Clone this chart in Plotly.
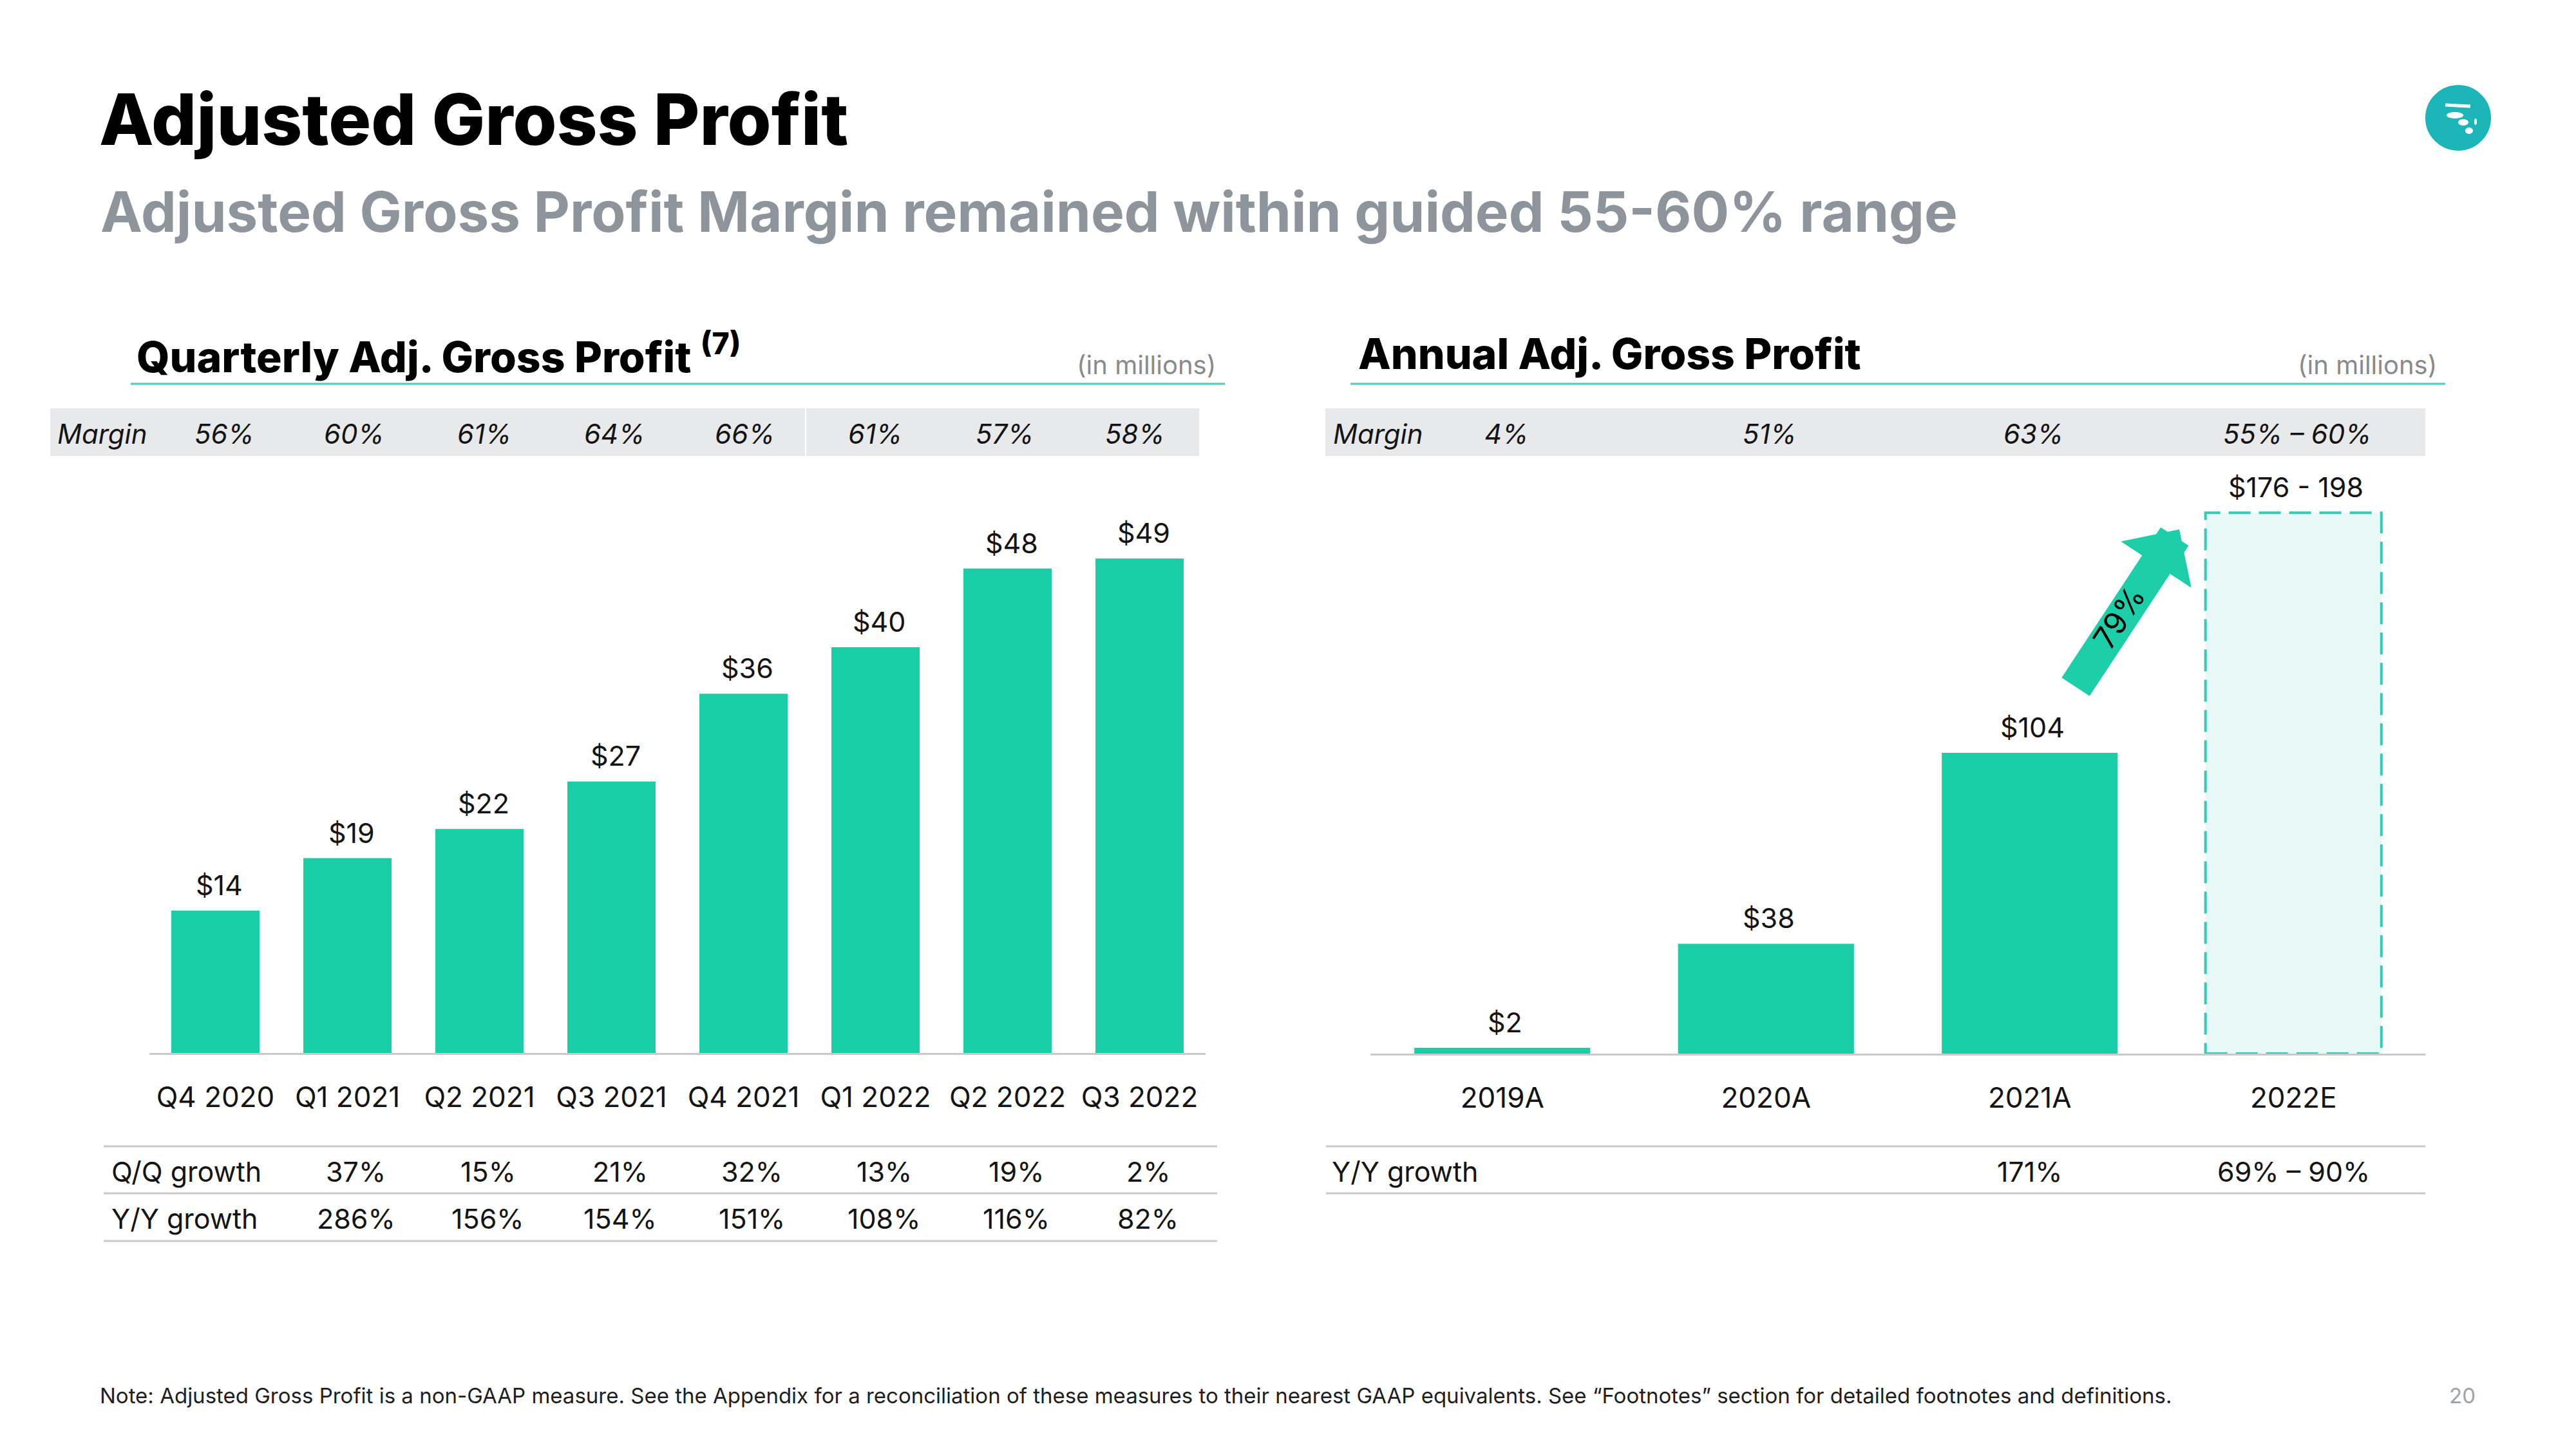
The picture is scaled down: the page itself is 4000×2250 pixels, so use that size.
import plotly.graph_objects as go

W, H = 4000, 2250
OFF = 8  # page body margin of the rendered html


def px(x):
    return (x - OFF) / W


def py(y):
    return 1 - (y - OFF) / H


# ---------------- data ----------------
quarters = ["Q4 2020", "Q1 2021", "Q2 2021", "Q3 2021", "Q4 2021", "Q1 2022", "Q2 2022", "Q3 2022"]
quarterly_gp = [14.1, 19.3, 22.2, 26.9, 35.6, 40.2, 48.0, 49.0]
quarterly_labels = ["$14", "$19", "$22", "$27", "$36", "$40", "$48", "$49"]
quarterly_margin = ["56%", "60%", "61%", "64%", "66%", "61%", "57%", "58%"]
quarterly_qq = ["", "37%", "15%", "21%", "32%", "13%", "19%", "2%"]
quarterly_yy = ["", "286%", "156%", "154%", "151%", "108%", "116%", "82%"]

years = ["2019A", "2020A", "2021A", "2022E"]
annual_actual = [2, 38, 104]
guide_low, guide_high = 176, 198
annual_labels = ["$2", "$38", "$104", "$176 - 198"]
annual_margin = ["4%", "51%", "63%", "55% – 60%"]
annual_yy = ["", "", "171%", "69% – 90%"]
arrow_label = "79%"

# ---------------- styles ----------------
BODY = "Inter"
HEAD = "Inter"
BAR = "#19CDA6"
TEAL_LINE = "#4CCBBE"
GRID = "#C9C9C9"
BAND = "#E8E9EB"
TXT = "#141414"

fig = go.Figure()

fig.add_trace(go.Bar(x=quarters, y=quarterly_gp, width=0.668, marker=dict(color=BAR, line=dict(width=0)),
                     xaxis="x", yaxis="y", hoverinfo="skip"))
fig.add_trace(go.Bar(x=years[:3], y=annual_actual, width=0.667, marker=dict(color=BAR, line=dict(width=0)),
                     xaxis="x2", yaxis="y2", hoverinfo="skip"))
guide_mid = (guide_low + guide_high) / 2
fig.add_trace(go.Bar(x=[years[3]], y=[guide_mid], width=0.667, marker=dict(color="#E8F8F6", line=dict(width=0)),
                     xaxis="x2", yaxis="y2", hoverinfo="skip"))

shapes = []
ann = []

# dashed border of the guidance bar (from data)
shapes.append(dict(type="rect", xref="x2", yref="y2", x0=3 - 0.3335, x1=3 + 0.3335, y0=0, y1=guide_mid,
                   line=dict(color="#2FCDB9", width=4, dash="34px,13px"), fillcolor="rgba(0,0,0,0)", layer="above"))

# header underlines
shapes.append(dict(type="line", xref="paper", yref="paper", x0=px(203), x1=px(1902), y0=py(596), y1=py(596),
                   line=dict(color=TEAL_LINE, width=3)))
shapes.append(dict(type="line", xref="paper", yref="paper", x0=px(2097), x1=px(3797), y0=py(596), y1=py(596),
                   line=dict(color=TEAL_LINE, width=3)))

# margin bands
shapes.append(dict(type="rect", xref="paper", yref="paper", x0=px(78), x1=px(1862), y0=py(708), y1=py(634),
                   fillcolor=BAND, line=dict(width=0), layer="below"))
shapes.append(dict(type="line", xref="paper", yref="paper", x0=px(1251), x1=px(1251), y0=py(708), y1=py(634),
                   line=dict(color="white", width=2)))
shapes.append(dict(type="rect", xref="paper", yref="paper", x0=px(2058), x1=px(3766), y0=py(708), y1=py(634),
                   fillcolor=BAND, line=dict(width=0), layer="below"))

# table lines
for yy in (1780, 1853, 1927):
    shapes.append(dict(type="line", xref="paper", yref="paper", x0=px(161), x1=px(1890), y0=py(yy), y1=py(yy),
                       line=dict(color=GRID, width=3)))
for yy in (1780, 1853):
    shapes.append(dict(type="line", xref="paper", yref="paper", x0=px(2059), x1=px(3766), y0=py(yy), y1=py(yy),
                       line=dict(color=GRID, width=3)))

# logo
shapes.append(dict(type="circle", xref="paper", yref="paper", x0=px(3767), x1=px(3867), y0=py(233), y1=py(133),
                   fillcolor="#1CB5B8", line=dict(color="#1CB5B8", width=2)))
for cx, cy, rx, ry in [(3812, 179, 13, 5), (3825, 190, 8, 5), (3834, 203, 6, 5), (3844, 189, 2, 5)]:
    shapes.append(dict(type="circle", xref="paper", yref="paper", x0=px(cx - rx), x1=px(cx + rx),
                       y0=py(cy + ry), y1=py(cy - ry), fillcolor="white", line=dict(width=0)))
shapes.append(dict(type="line", xref="paper", yref="paper", x0=px(3797), x1=px(3836), y0=py(163), y1=py(165),
                   line=dict(color="white", width=5)))


def text(x, y, s, size, color=TXT, xanchor="left", family=BODY, weight=400, style="normal", xref="paper",
         yref="paper", xshift=0, yshift=0, yanchor="middle", angle=0):
    ann.append(dict(x=x, y=y, xref=xref, yref=yref, text=s, showarrow=False, xanchor=xanchor, yanchor=yanchor,
                    xshift=xshift, yshift=yshift, textangle=angle,
                    font=dict(family=family, size=size, color=color, weight=weight, style=style)))


# titles
text(px(152), py(185), "Adjusted Gross Profit", 110, "#000000", family=HEAD, weight=800)
text(px(154), py(328), "Adjusted Gross Profit Margin remained within guided 55-60% range", 87, "#8E949C",
     family=HEAD, weight=700)

# panel headers
text(px(210), py(549), "Quarterly Adj. Gross Profit <sup>(7)</sup>", 66, "#000000", family=HEAD, weight=800)
text(px(1890), py(566), "(in millions)", 40, "#8A8A8A", xanchor="right")
text(px(2107), py(549), "Annual Adj. Gross Profit", 66, "#000000", family=HEAD, weight=800)
text(px(3786), py(566), "(in millions)", 40, "#8A8A8A", xanchor="right")

# margin rows (own column grid of the table band)
text(px(87), py(673), "Margin", 42, style="italic")
for i, m in enumerate(quarterly_margin):
    text(px(348 + 202.1 * i), py(673), m, 42, xanchor="center", style="italic")
text(px(2068), py(673), "Margin", 42, style="italic")
for yname, m in zip(years, annual_margin):
    text(yname, py(673), m, 42, xanchor="center", xref="x2", style="italic", xshift=6)

# bar value labels
for q, v, lab in zip(quarters, quarterly_gp, quarterly_labels):
    text(q, v, lab, 43, xanchor="center", xref="x", yref="y", yanchor="bottom", yshift=12, xshift=6)
for yname, v, lab in zip(years, annual_actual + [guide_mid], annual_labels):
    text(yname, v, lab, 43, xanchor="center", xref="x2", yref="y2", yanchor="bottom", yshift=12, xshift=4)

# growth tables
text(px(171), py(1819), "Q/Q growth", 43)
text(px(171), py(1892), "Y/Y growth", 43)
for q, a, b in zip(quarters, quarterly_qq, quarterly_yy):
    if a:
        text(q, py(1819), a, 43, xanchor="center", xref="x", xshift=13)
    if b:
        text(q, py(1892), b, 43, xanchor="center", xref="x", xshift=13)
text(px(2066), py(1819), "Y/Y growth", 43)
for yname, a in zip(years, annual_yy):
    if a:
        text(yname, py(1819), a, 43, xanchor="center", xref="x2")

# growth arrow
ann.append(dict(x=px(3384), y=py(822), xref="paper", yref="paper", ax=-162, ay=246, axref="pixel", ayref="pixel",
                text="", showarrow=True, arrowhead=1, arrowsize=0.42, arrowwidth=52, arrowcolor="#1DCFA8",
                standoff=0))
text(px(3290), py(958), arrow_label, 48, "#000000", xanchor="center", angle=-57)

# footer
text(px(153), py(2167),
     "Note: Adjusted Gross Profit is a non-GAAP measure. See the Appendix for a reconciliation of these measures to "
     "their nearest GAAP equivalents. See “Footnotes” section for detailed footnotes and definitions.",
     33, "#1E1E1E")
text(px(3846), py(2167), "20", 33, "#A0A4AA", xanchor="right")

axis_common = dict(showgrid=False, zeroline=False, showline=True, linecolor=GRID, linewidth=3, ticks="outside",
                   ticklen=28, tickcolor="rgba(0,0,0,0)", tickfont=dict(family=BODY, size=44, color=TXT),
                   fixedrange=True)
yaxis_common = dict(visible=False, showgrid=False, zeroline=False, fixedrange=True)

fig.update_layout(
    width=W, height=H, margin=dict(l=0, r=0, t=0, b=0),
    paper_bgcolor="white", plot_bgcolor="white", showlegend=False, barmode="overlay",
    xaxis=dict(domain=[px(232), px(1872)], anchor="y", range=[-0.5, 7.5], type="category", **axis_common),
    yaxis=dict(domain=[py(1635), py(835)], anchor="x", range=[0, 800 / 15.67], **yaxis_common),
    xaxis2=dict(domain=[px(2128), px(3766)], anchor="y2", range=[-0.5, 3.5], type="category", **axis_common),
    yaxis2=dict(domain=[py(1636), py(750)], anchor="x2", range=[0, 886 / 4.49], **yaxis_common),
    shapes=shapes, annotations=ann,
)

fig.write_html("out.html")
